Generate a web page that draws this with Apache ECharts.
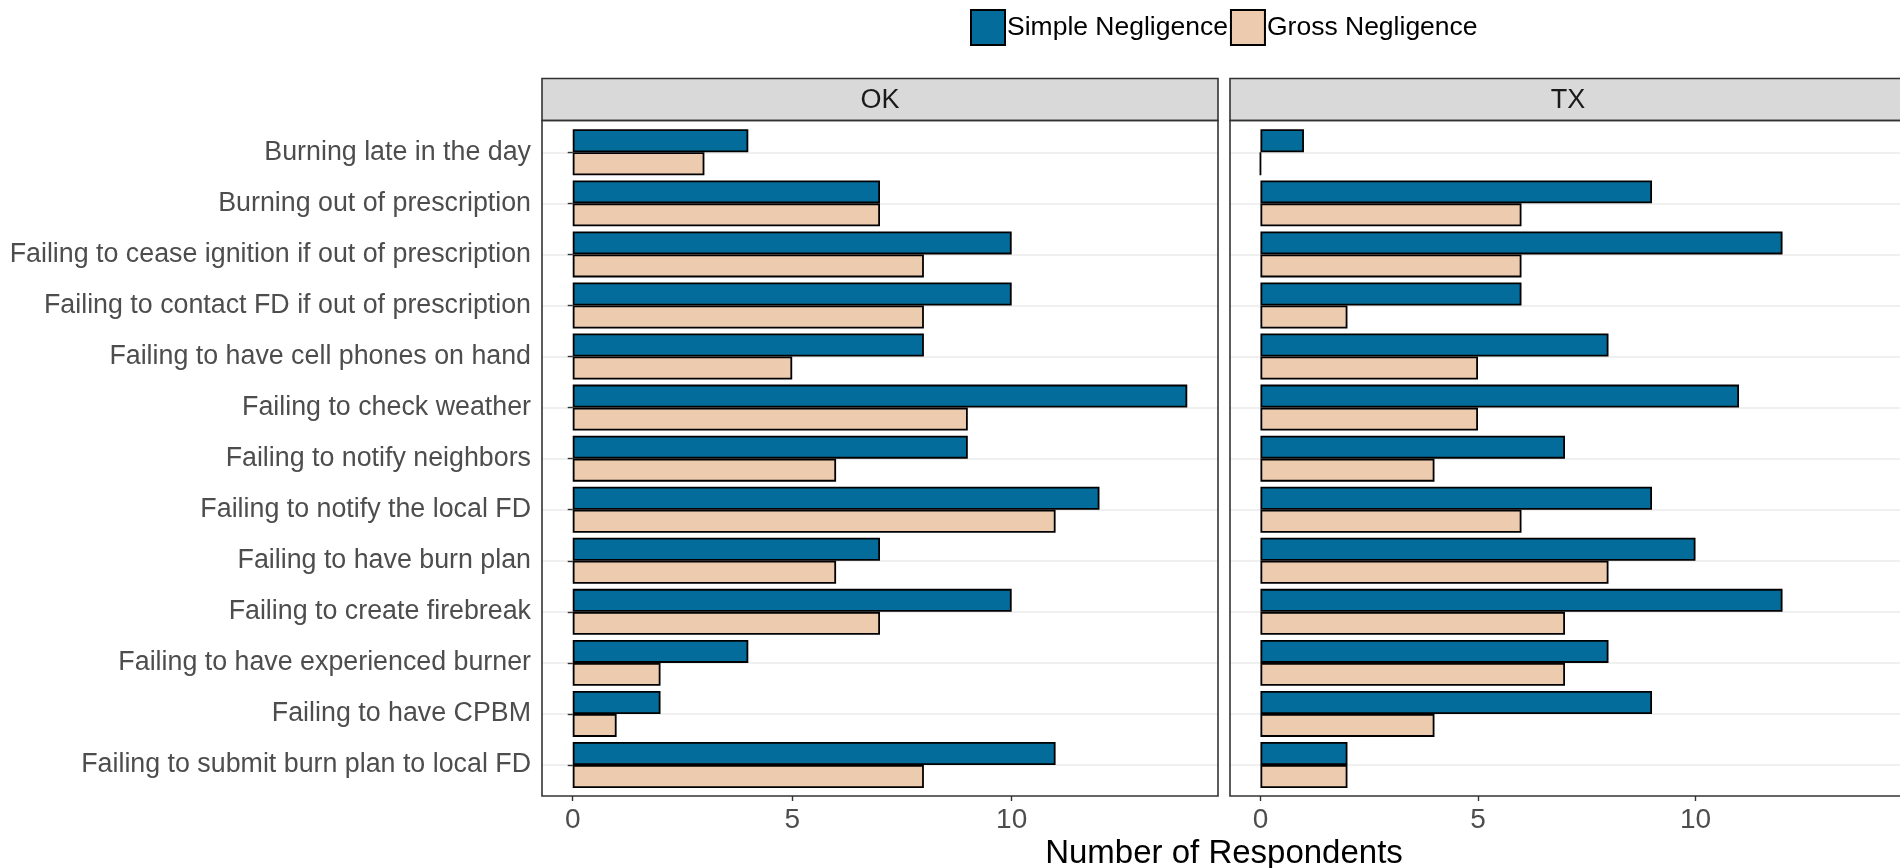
<!DOCTYPE html>
<html>
<head>
<meta charset="utf-8">
<script src="https://cdn.jsdelivr.net/npm/echarts@6/dist/echarts.min.js"></script>
<style>
html,body{margin:0;padding:0;background:#fff;}
#chart{width:1900px;height:868px;}
</style>
</head>
<body>
<div id="chart"></div>
<script>
const categories = [
  'Burning late in the day',
  'Burning out of prescription',
  'Failing to cease ignition if out of prescription',
  'Failing to contact FD if out of prescription',
  'Failing to have cell phones on hand',
  'Failing to check weather',
  'Failing to notify neighbors',
  'Failing to notify the local FD',
  'Failing to have burn plan',
  'Failing to create firebreak',
  'Failing to have experienced burner',
  'Failing to have CPBM',
  'Failing to submit burn plan to local FD'
];
const panels = ['OK', 'TX'];
const seriesNames = ['Simple Negligence', 'Gross Negligence'];
const okSimple = [4, 7, 10, 10, 8, 14, 9, 12, 7, 10, 4, 2, 11];
const okGross  = [3, 7, 8, 8, 5, 9, 6, 11, 6, 7, 2, 1, 8];
const txSimple = [1, 9, 12, 6, 8, 11, 7, 9, 10, 12, 8, 9, 2];
const txGross  = [0, 6, 6, 2, 5, 5, 4, 6, 8, 7, 7, 4, 2];
const xTicks = [0, 5, 10];
const xTitle = 'Number of Respondents';

const FONT = "'Liberation Sans', Arial, Helvetica, sans-serif";
const colors = ['#046C9A', '#ECCBAE'];

const panelLeft = [542, 1230];
const panelW = 676;
const panelTop = 120.5;
const panelH = 675.5;
const stripTop = 78.5;
const stripH = 42;
const barTop = 152.3;
const barH = 612.7;

const chart = echarts.init(document.getElementById('chart'), null, {renderer: 'canvas'});

const grids = panelLeft.map(l => ({left: l, top: barTop, width: panelW, height: barH, containLabel: false}));

const xAxes = panelLeft.map((l, i) => ({
  type: 'value', gridIndex: i, min: -0.7, max: 14.7, position: 'bottom',
  offset: (panelTop + panelH) - (barTop + barH),
  axisLine: {show: false},
  axisTick: {show: true, length: 5, lineStyle: {color: '#333', width: 1.4}, customValues: xTicks},
  axisLabel: {show: true, customValues: xTicks, color: '#4D4D4D', fontSize: 28, fontFamily: FONT, margin: 10},
  splitLine: {show: false}
}));

const yAxes = panelLeft.map((l, i) => ({
  type: 'category', gridIndex: i, data: categories, inverse: true, boundaryGap: false,
  axisLine: {show: false},
  axisTick: {show: i === 0, length: 5, interval: 0, lineStyle: {color: '#333', width: 1.4}},
  axisLabel: {show: i === 0, interval: 0, color: '#4D4D4D', fontSize: 26.8, fontFamily: FONT, margin: 11},
  splitLine: {show: true, interval: 0, lineStyle: {color: '#EBEBEB', width: 1.5}}
}));

const data = [[okSimple, okGross], [txSimple, txGross]];
const series = [];
panels.forEach((p, pi) => {
  seriesNames.forEach((n, si) => {
    series.push({
      type: 'bar', name: n, xAxisIndex: pi, yAxisIndex: pi,
      data: data[pi][si], barWidth: '45%', barGap: '0%', clip: false,
      itemStyle: {color: colors[si], borderColor: '#000', borderWidth: 1.8},
      emphasis: {disabled: true}
    });
  });
});

const graphics = [];
panels.forEach((p, pi) => {
  graphics.push({
    type: 'rect', z: 5, shape: {x: panelLeft[pi], y: stripTop, width: panelW, height: stripH},
    style: {fill: '#D9D9D9', stroke: '#333', lineWidth: 1.6}
  });
  graphics.push({
    type: 'text', z: 6, x: panelLeft[pi] + panelW / 2, y: stripTop + stripH / 2 + 1,
    style: {text: p, fill: '#1A1A1A', font: '27px ' + FONT, textAlign: 'center', textVerticalAlign: 'middle'}
  });
  graphics.push({
    type: 'rect', z: 50, silent: true, shape: {x: panelLeft[pi], y: panelTop, width: panelW, height: panelH},
    style: {fill: 'none', stroke: '#333', lineWidth: 1.6}
  });
});
graphics.push({
  type: 'text', z: 6, x: (panelLeft[0] + panelLeft[1] + panelW) / 2, y: 854,
  style: {text: xTitle, fill: '#000', font: '33px ' + FONT, textAlign: 'center', textVerticalAlign: 'middle'}
});

chart.setOption({
  animation: false,
  backgroundColor: '#fff',
  legend: {
    data: seriesNames, left: 970, top: 9, padding: 0, itemWidth: 34, itemHeight: 35, itemGap: 2,
    icon: 'rect',
    itemStyle: {borderColor: '#000', borderWidth: 2},
    textStyle: {color: '#000', fontSize: 26.5, fontFamily: FONT, padding: [0, 0, 0, -3]}
  },
  grid: grids,
  xAxis: xAxes,
  yAxis: yAxes,
  series: series,
  graphic: graphics
});
</script>
</body>
</html>
